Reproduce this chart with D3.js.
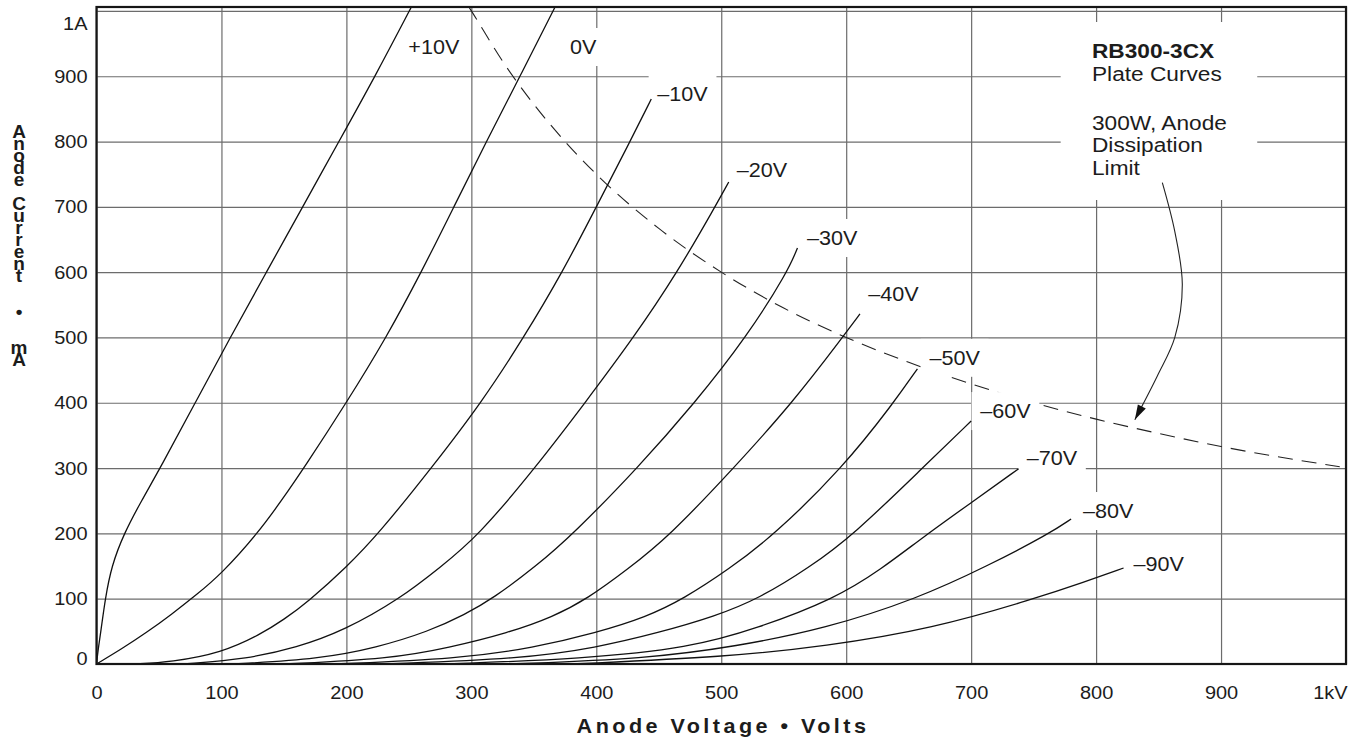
<!DOCTYPE html>
<html>
<head>
<meta charset="utf-8">
<script src="https://cdn.jsdelivr.net/npm/d3@7"></script>
<style>
body { margin: 0; background: #fff; }
text { font-family: "Liberation Sans", Arial, sans-serif; fill: #1c1c1c; }
</style>
</head>
<body>
<svg id="chart" width="1360" height="747"></svg>
<script>
// ticks
const xTicks = [0, 100, 200, 300, 400, 500, 600, 700, 800, 900, 1000]
const xLabels = ["0", "100", "200", "300", "400", "500", "600", "700", "800", "900", "1kV"]
const yTicks = [0, 100, 200, 300, 400, 500, 600, 700, 800, 900, 1000]
const yLabels = ["0", "100", "200", "300", "400", "500", "600", "700", "800", "900", "1A"]

// grid voltage of each curve
const gridNames = ["+10V", "0V", "\u201310V", "\u201320V", "\u201330V", "\u201340V", "\u201350V", "\u201360V", "\u201370V", "\u201380V", "\u201390V"]

// plate curves, [anode volts, anode mA]
const gPlus10 = [[0,0],[1.5,25],[3.5,50],[7,100],[12,150],[22,200],[36,250],[51,300],[79,400],[107,500],[136,600],[165,700],[194,800],[223,900],[252,1006]]
const g0 = [[0,0],[20,23],[40,48],[60,76],[80,106],[100,138],[129,200],[148,250],[166,300],[200,400],[232,500],[260,600],[286,700],[312,800],[339,900],[367,1006]]
const gMinus10 = [[30,0],[60,3],[100,17],[131,45],[150,68],[169,95],[200,148],[226,200],[268,300],[308,400],[342,500],[373,600],[400,700],[427,800],[444,865]]
const gMinus20 = [[70,0],[121,8],[160,25],[198,51],[243,100],[275,148],[305,195],[351,300],[391,400],[430,500],[465,600],[495,700],[506,738]]
const gMinus30 = [[110,0],[179,8],[224,25],[266,50],[295,76],[317,100],[352,150],[382,200],[433,300],[479,400],[520,500],[553,600],[561,637]]
const gMinus40 = [[150,0],[235,8],[282,25],[330,48],[365,72],[393,100],[425,145],[458,195],[510,300],[557,400],[597,500],[611,536]]
const gMinus50 = [[190,0],[290,8],[350,25],[400,48],[440,72],[470,100],[506,145],[542,197],[597,300],[638,400],[657,452]]
const gMinus60 = [[230,0],[340,8],[400,25],[450,48],[495,73],[530,100],[570,147],[606,198],[661,300],[700,372]]
const gMinus70 = [[280,0],[390,8],[475,25],[528,54],[591,100],[628,145],[662,195],[700,247],[738,299]]
const gMinus80 = [[330,0],[440,8],[512,27],[583,54],[657,100],[713,150],[763,200],[780,222]]
const gMinus90 = [[380,0],[505,11],[583,27],[669,54],[751,100],[790,125],[822,147]]

const curves = [gPlus10, g0, gMinus10, gMinus20, gMinus30, gMinus40, gMinus50, gMinus60, gMinus70, gMinus80, gMinus90]

// 300W anode dissipation limit, [volts, mA]
const limit300W = [[298,1006],[300,1000],[325,923],[350,857],[375,800],[400,750],[450,667],[500,600],[550,545],[600,500],[650,462],[700,429],[750,400],[800,375],[850,353],[900,333],[995,302]]

// leader from the note to the dashed curve, [volts, mA]
const arrowPts = [[853,737],[863,662],[869,581],[863,500],[849,441],[831,374]]

const noteLines = ["RB300-3CX", "Plate Curves", "300W, Anode", "Dissipation", "Limit"]

// label nudges, px from the end of each curve
const labelOff = [[-3,40],[15,40],[6,-5],[8,-12],[9.5,-10],[8.4,-19.5],[12,-11],[9,-10],[8,-11],[12,-8],[10,-4]]
const sx = 1.08

let svg = d3.select('#chart')
let x = d3.scaleLinear().domain([0, 1000]).range([96.5, 1346])
let y = d3.scaleLinear().domain([0, 1006]).range([664, 7])
let ph = y(0) - y(1006)
let pw = x(1000) - x(0)

// grid
svg.append('g')
    .attr('transform', `translate(0,${y(0)})`)
    .call(d3.axisBottom(x).tickValues(xTicks).tickSize(-ph).tickFormat(''))
    .call(g => g.select('.domain').remove())
    .selectAll('line').attr('stroke', '#6c6c6c').attr('stroke-width', 1.2)

svg.append('g')
    .attr('transform', `translate(${x(0)},0)`)
    .call(d3.axisLeft(y).tickValues(yTicks).tickSize(-pw).tickFormat(''))
    .call(g => g.select('.domain').remove())
    .selectAll('line').attr('stroke', '#6c6c6c').attr('stroke-width', 1.2)

// tick labels
let xl = svg.append('g')
    .attr('transform', `translate(0,${y(0)})`)
    .call(d3.axisBottom(x).tickValues(xTicks).tickSize(0).tickPadding(21.5).tickFormat((d, i) => xLabels[i]))
    .attr('font-family', null).attr('font-size', null)
xl.select('.domain').remove()
xl.selectAll('text')
    .style('font-size', '18.5px')
    .attr('transform', `scale(${sx},1)`)
    .attr('text-anchor', d => d == 1000 ? 'end' : 'middle')
    .attr('x', d => d == 1000 ? 1 : 0)

let yl = svg.append('g')
    .attr('transform', `translate(${x(0)},0)`)
    .call(d3.axisLeft(y).tickValues(yTicks).tickSize(0).tickPadding(9).tickFormat((d, i) => yLabels[i]))
    .attr('font-family', null).attr('font-size', null)
yl.select('.domain').remove()
yl.selectAll('text')
    .style('font-size', '18.5px')
    .attr('transform', d => `translate(0,${d == 1000 ? 13 : d == 0 ? -5.5 : 0}) scale(${sx},1)`)
    .attr('x', -9 / sx)

// dissipation limit
let line = d3.line().x(d => x(d[0])).y(d => y(d[1]))
svg.append('defs').append('clipPath').attr('id', 'plot')
    .append('rect').attr('x', x(0)).attr('y', y(1006)).attr('width', pw).attr('height', ph)

svg.append('path')
    .attr('d', line.curve(d3.curveMonotoneX)(limit300W))
    .attr('clip-path', 'url(#plot)')
    .attr('fill', 'none').attr('stroke', '#222').attr('stroke-width', 1.1)
    .attr('stroke-dasharray', '15,9')

// curve labels with white backing
let ends = curves.map(c => c[c.length - 1])
let labs = svg.append('g')
ends.forEach((e, i) => {
    let lx = x(e[0]) + labelOff[i][0]
    let ly = Math.max(y(e[1]), y(1006)) + labelOff[i][1]
    let g = labs.append('g').attr('transform', `translate(${lx},${ly}) scale(${sx},1)`)
    let bg = g.append('rect').attr('fill', '#fff')
    let t = g.append('text').text(gridNames[i])
        .style('font-size', '20px').attr('dy', '0.35em')
    let b = t.node().getBBox()
    bg.attr('x', b.x - 8).attr('width', b.width + 16).attr('y', -19).attr('height', 38)
})

// note box
let note = svg.append('g').attr('transform', `translate(1092,0) scale(${sx},1)`)
let nbg = note.append('rect').attr('fill', '#fff')
let base = [58, 81.5, 130, 152.5, 175]
noteLines.forEach((s, i) => {
    note.append('text').text(s)
        .attr('y', base[i])
        .style('font-size', '21px')
        .style('font-weight', i == 0 ? 'bold' : 'normal')
})
nbg.attr('x', -29).attr('y', 22).attr('width', 182).attr('height', 178)

// plate curves
svg.append('g').attr('clip-path', 'url(#plot)')
    .selectAll('path').data(curves).join('path')
    .attr('d', d => line.curve(d3.curveBasis)(d))
    .attr('fill', 'none').attr('stroke', '#111').attr('stroke-width', 1.3)

// leader arrow
svg.append('defs').append('marker')
    .attr('id', 'head').attr('markerUnits', 'userSpaceOnUse')
    .attr('viewBox', '-16 -6 18 12').attr('refX', 0).attr('refY', 0)
    .attr('markerWidth', 18).attr('markerHeight', 12).attr('orient', 'auto')
    .append('path').attr('d', 'M0,0 L-15,-4.5 L-15,4.5 Z').attr('fill', '#111')

svg.append('path')
    .attr('d', line.curve(d3.curveCatmullRom)(arrowPts))
    .attr('fill', 'none').attr('stroke', '#222').attr('stroke-width', 1.1)
    .attr('marker-end', 'url(#head)')

// frame
svg.append('rect')
    .attr('x', x(0)).attr('y', y(1006)).attr('width', pw).attr('height', ph)
    .attr('fill', 'none').attr('stroke', '#161616').attr('stroke-width', 2.2)

// axis titles
svg.append('text')
    .attr('transform', `translate(723,733) scale(${sx},1)`)
    .attr('text-anchor', 'middle')
    .style('font-size', '20px').style('font-weight', 'bold').style('letter-spacing', '3.2px')
    .text('Anode Voltage \u2022 Volts')

// vertical title, upright glyphs stacked in one column
svg.append('text')
    .attr('x', 19).attr('y', 121)
    .style('writing-mode', 'vertical-rl')
    .style('text-orientation', 'upright')
    .style('font-size', '19px').style('font-weight', 'bold')
    .style('letter-spacing', '-9px')
    .text('Anode\u00a0Current\u00a0\u00a0\u2022\u00a0\u00a0mA')
</script>
</body>
</html>
